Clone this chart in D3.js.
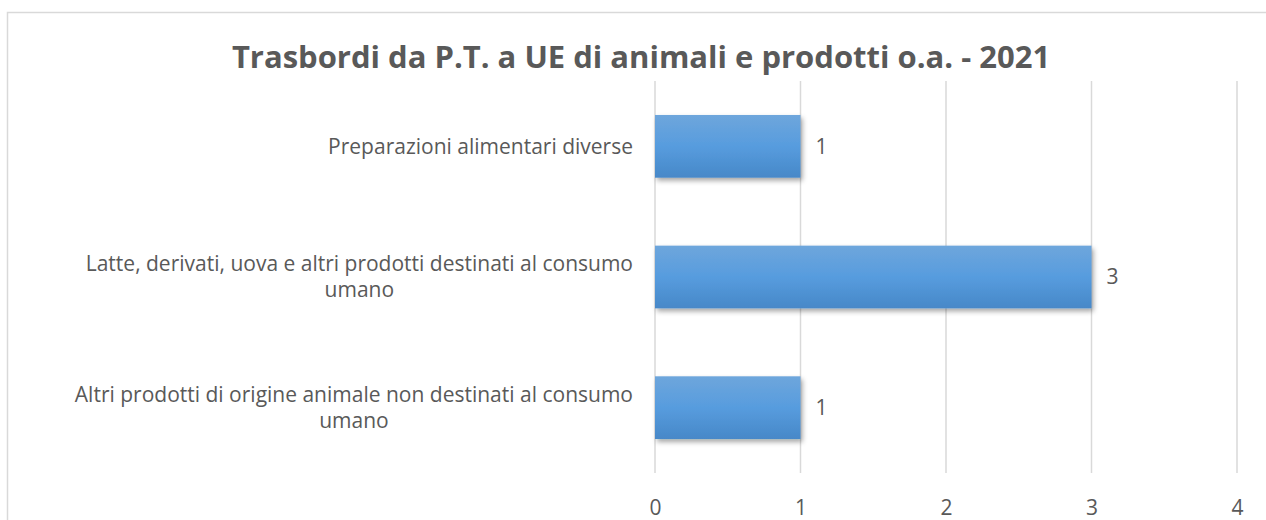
<!DOCTYPE html>
<html>
<head>
<meta charset="utf-8">
<script src="https://cdn.jsdelivr.net/npm/d3@7"></script>
<style>
  body { margin: 0; background: #fff; }
  svg { display: block; }
  text { font-family: "Open Sans", "Noto Sans", sans-serif; fill: #595959; }
</style>
</head>
<body>
<svg id="chart" width="1266" height="520"></svg>
<script>
var title = "Trasbordi da P.T. a UE di animali e prodotti o.a. - 2021";
var categories = [
	"Preparazioni alimentari diverse",
	"Latte, derivati, uova e altri prodotti destinati al consumo umano",
	"Altri prodotti di origine animale non destinati al consumo umano"
];
var values = [1, 3, 1];
var ticks = [0, 1, 2, 3, 4];

var svg = d3.select("#chart");
var margin = {top: 81, left: 655, right: 29, bottom: 47};
var width = 1266 - margin.left - margin.right;
var height = 520 - margin.top - margin.bottom;

// outer chart border
svg.append("rect")
	.attr("x", 7.5).attr("y", 12.5)
	.attr("width", 1300).attr("height", 600)
	.attr("fill", "none")
	.attr("stroke", "#d9d9d9")
	.attr("stroke-width", 1.5);

var defs = svg.append("defs");
var grad = defs.append("linearGradient")
	.attr("id", "barGrad")
	.attr("x1", 0).attr("y1", 0).attr("x2", 0).attr("y2", 1);
grad.append("stop").attr("offset", "0%").attr("stop-color", "#6ea6dc");
grad.append("stop").attr("offset", "50%").attr("stop-color", "#579cde");
grad.append("stop").attr("offset", "100%").attr("stop-color", "#4788c8");

var shadow = defs.append("filter")
	.attr("id", "shadow")
	.attr("x", "-10%").attr("y", "-20%")
	.attr("width", "130%").attr("height", "160%");
shadow.append("feDropShadow")
	.attr("dx", 2).attr("dy", 3)
	.attr("stdDeviation", 2.5)
	.attr("flood-color", "#000")
	.attr("flood-opacity", 0.35);

var x = d3.scaleLinear().domain([0, 4]).range([0, width]);
var y = d3.scaleBand().domain(categories).range([0, height]).paddingInner(0.52).paddingOuter(0.26);

var g = svg.append("g").attr("transform", "translate(" + margin.left + "," + margin.top + ")");

//gridlines
g.selectAll(".grid")
	.data(ticks)
	.enter().append("line")
	.attr("x1", function(d){ return x(d); })
	.attr("x2", function(d){ return x(d); })
	.attr("y1", 0).attr("y2", height)
	.attr("stroke", "#d9d9d9")
	.attr("stroke-width", 1.5);

// tick labels via axis
var xAxis = g.append("g")
	.attr("transform", "translate(0," + height + ")")
	.call(d3.axisBottom(x).tickValues(ticks).tickFormat(d3.format("d")).tickSize(0).tickPadding(27));
xAxis.select(".domain").remove();
xAxis.selectAll("text")
	.style("font-size", "21px")
	.style("fill", "#595959")
	.style("font-family", "'Open Sans', sans-serif");

// bars
g.selectAll(".bar")
	.data(values)
	.enter().append("rect")
	.attr("x", x(0))
	.attr("y", function(d, i){ return y(categories[i]); })
	.attr("width", function(d){ return x(d) - x(0); })
	.attr("height", y.bandwidth())
	.attr("fill", "url(#barGrad)")
	.attr("filter", "url(#shadow)");

// value labels
g.selectAll(".val")
	.data(values)
	.enter().append("text")
	.attr("x", function(d){ return x(d) + 15; })
	.attr("y", function(d, i){ return y(categories[i]) + y.bandwidth() / 2; })
	.attr("dy", "0.35em")
	.style("font-size", "21px")
	.text(function(d){ return d; });

// category labels: wrapped, block right-aligned, lines centred
var maxW = 565, lineH = 26, rightEdge = -22;
categories.forEach(function(c, i){
	var words = c.split(" ");
	var lines = [];
	var tmp = g.append("text").style("font-size", "21px");
	var cur = "";
	words.forEach(function(w){
		var test = cur ? cur + " " + w : w;
		tmp.text(test);
		if (tmp.node().getComputedTextLength() > maxW && cur) {
			lines.push(cur);
			cur = w;
		} else {
			cur = test;
		}
	});
	lines.push(cur);
	var widest = 0;
	lines.forEach(function(l){
		tmp.text(l);
		widest = Math.max(widest, tmp.node().getComputedTextLength());
	});
	tmp.remove();
	var cx = rightEdge - widest / 2;
	var cy = y(c) + y.bandwidth() / 2 - (lines.length - 1) * lineH / 2;
	var t = g.append("text")
		.attr("text-anchor", "middle")
		.style("font-size", "21px");
	lines.forEach(function(l, k){
		t.append("tspan")
			.attr("x", cx)
			.attr("y", cy + k * lineH)
			.attr("dy", "0.35em")
			.text(l);
	});
});

// title
svg.append("text")
	.attr("x", 641)
	.attr("y", 68)
	.attr("text-anchor", "middle")
	.style("font-size", "31px")
	.style("font-weight", "bold")
	.text(title);
</script>
</body>
</html>
